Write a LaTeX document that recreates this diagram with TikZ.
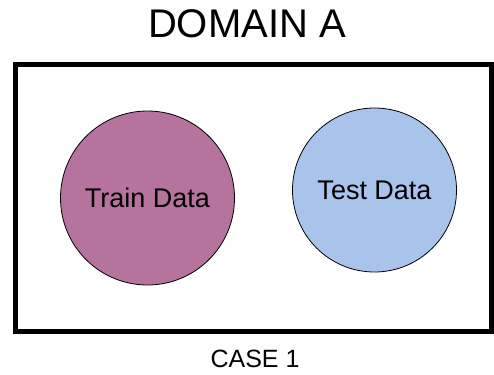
\documentclass[tikz,border=0pt]{standalone}
\usepackage{fontspec}
\setmainfont{Liberation Sans}
\definecolor{trainfill}{HTML}{B5739D}
\definecolor{testfill}{HTML}{A9C4EB}
\begin{document}
\begin{tikzpicture}[x=1pt,y=-1pt,
  datacircle/.style={circle, draw=black, line width=0.8pt, inner sep=0pt,
    font=\fontsize{27}{31}\selectfont}]
\useasboundingbox (0,0) rectangle (494,374);
\node[anchor=base, font=\fontsize{40}{46}\selectfont] (title) at (247,37.5) {DOMAIN A};
\draw[line width=5pt] (15,65) rectangle (491,331);
\node[datacircle, fill=trainfill, minimum size=174pt] (train) at (147.5,198) {Train Data};
\node[datacircle, fill=testfill, minimum size=164pt] (test) at (374.5,190) {Test Data};
\node[anchor=base, font=\fontsize{25}{30}\selectfont] (case) at (255,367) {CASE 1};
\end{tikzpicture}
\end{document}
